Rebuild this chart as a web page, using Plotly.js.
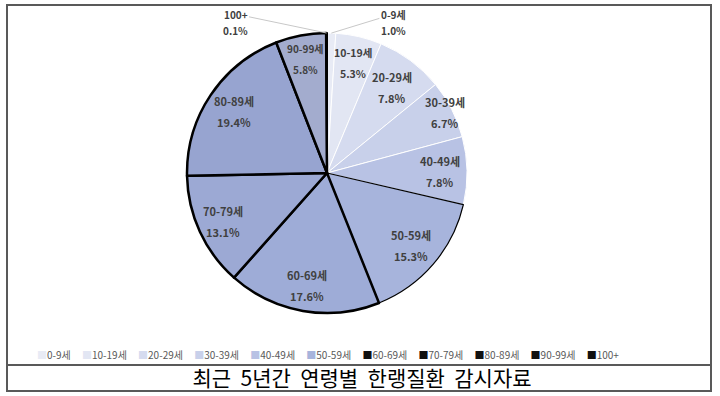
<!DOCTYPE html>
<html>
<head>
<meta charset="utf-8">
<script src="https://cdn.plot.ly/plotly-3.0.1.min.js"></script>
<style>html,body{margin:0;padding:0;background:#fff;}#chart{width:720px;height:396px;}</style>
</head>
<body>
<div id="chart"></div>
<script>
// ---- data ----
const categories = ['0-9세','10-19세','20-29세','30-39세','40-49세','50-59세','60-69세','70-79세','80-89세','90-99세','100+'];
const shares = [1.0, 5.3, 7.8, 6.7, 7.8, 15.3, 17.6, 13.1, 19.4, 5.8, 0.1];
const titleText = '최근 5년간 연령별 한랭질환 감시자료';

// ---- styles ----
const sliceColors = ['#e8ebf5','#e2e6f3','#d5dbef','#c8d0ea','#b8c2e4','#a7b4dc','#9eacd7','#9ca9d4','#97a4d0','#a3acce','#8a94b8'];
const lineColors = ['#ffffff','#ffffff','#ffffff','#ffffff','#ffffff','#000000','#000000','#000000','#000000','#000000','#000000'];
const lineWidths = [1, 1, 1, 1, 1, 1.2, 2.5, 2.5, 2.5, 2.5, 2];
// radial placement of inside labels (fraction of radius); null => outside label with leader line
const labelRadius = [null, 0.81, 0.77, 0.95, 0.81, 0.79, 0.81, 0.82, 0.80, 0.83, null];
const labelSize = [10, 10.5, 11, 11, 11, 11, 11, 11, 11, 10, 10];
const outsideOffset = [[62, -19], null, null, null, null, null, null, null, null, null, [-91, -19]];
const legendSym = sliceColors.map((c, i) => lineWidths[i] >= 2 ? '#111111' : c);

const W = 720, H = 396;
const cx = 327, cy = 173, R = 140;
const FONT = 'Noto Sans CJK KR, Noto Sans, sans-serif';

const trace = {
  type: 'pie',
  labels: categories,
  values: shares,
  sort: false,
  direction: 'clockwise',
  rotation: 0,
  marker: { colors: sliceColors, line: { color: lineColors, width: lineWidths } },
  textinfo: 'none',
  domain: { x: [(cx - R) / W, (cx + R) / W], y: [(H - cy - R) / H, (H - cy + R) / H] },
  showlegend: false,
  hoverinfo: 'none'
};

// slice labels placed along each slice's mid-angle
const total = shares.reduce((a, b) => a + b, 0);
const annotations = [];
let cum = 0;
shares.forEach((v, i) => {
  const mid = (cum + v / 2) / total * 2 * Math.PI;
  cum += v;
  const valText = v.toFixed(1) + '%';
  const font = { family: FONT, size: labelSize[i], color: '#404040', weight: 'bold' };
  if (labelRadius[i] === null) {
    const px = cx + R * Math.sin(mid), py = cy - R * Math.cos(mid);
    const [ox, oy] = outsideOffset[i];
    annotations.push({
      text: categories[i],
      xref: 'paper', yref: 'paper', x: px / W, y: 1 - py / H,
      showarrow: true, arrowhead: 0, arrowwidth: 1, arrowcolor: '#c8c8c8',
      ax: ox, ay: oy, font: font
    });
    annotations.push({
      text: valText,
      xref: 'paper', yref: 'paper', x: (px + ox) / W, y: 1 - (py + oy + 16) / H,
      xanchor: 'center', yanchor: 'middle', showarrow: false, font: font
    });
  } else {
    const r = R * labelRadius[i];
    const px = cx + r * Math.sin(mid), py = cy - r * Math.cos(mid);
    [[categories[i], 10], [valText, -11]].forEach(([t, sh]) => {
      annotations.push({
        text: t, xref: 'paper', yref: 'paper', x: px / W, y: 1 - py / H,
        xanchor: 'center', yanchor: 'middle', yshift: sh, showarrow: false, font: font
      });
    });
  }
});

// legend row
const legendText = categories.map((c, i) => `<span style="color:${legendSym[i]}">■</span>${c}`).join('\u00a0\u00a0\u00a0\u00a0\u00a0');
annotations.push({
  text: legendText,
  xref: 'paper', yref: 'paper',
  x: 328 / W, y: 1 - 354 / H, xanchor: 'center', yanchor: 'middle',
  showarrow: false,
  font: { family: FONT, size: 10, color: '#595959' }
});

const layout = {
  width: W, height: H,
  margin: { l: 0, r: 0, t: 0, b: 0 },
  paper_bgcolor: '#ffffff',
  showlegend: false,
  title: {
    text: titleText.split(' ').join('\u00a0\u00a0'),
    font: { family: FONT, size: 21, color: '#000000' },
    x: 362 / W, xanchor: 'center', xref: 'container',
    y: 1 - 379 / H, yanchor: 'middle', yref: 'container'
  },
  annotations: annotations,
  shapes: [
    { type: 'rect', xref: 'paper', yref: 'paper', x0: 7 / W, x1: 711 / W, y0: 1 - 391 / H, y1: 1 - 5 / H,
      line: { color: '#595959', width: 2 } },
    { type: 'line', xref: 'paper', yref: 'paper', x0: 7 / W, x1: 711 / W, y0: 1 - 365 / H, y1: 1 - 365 / H,
      line: { color: '#595959', width: 2 } }
  ]
};

Plotly.newPlot('chart', [trace], layout, { displayModeBar: false, staticPlot: true });
</script>
</body>
</html>
